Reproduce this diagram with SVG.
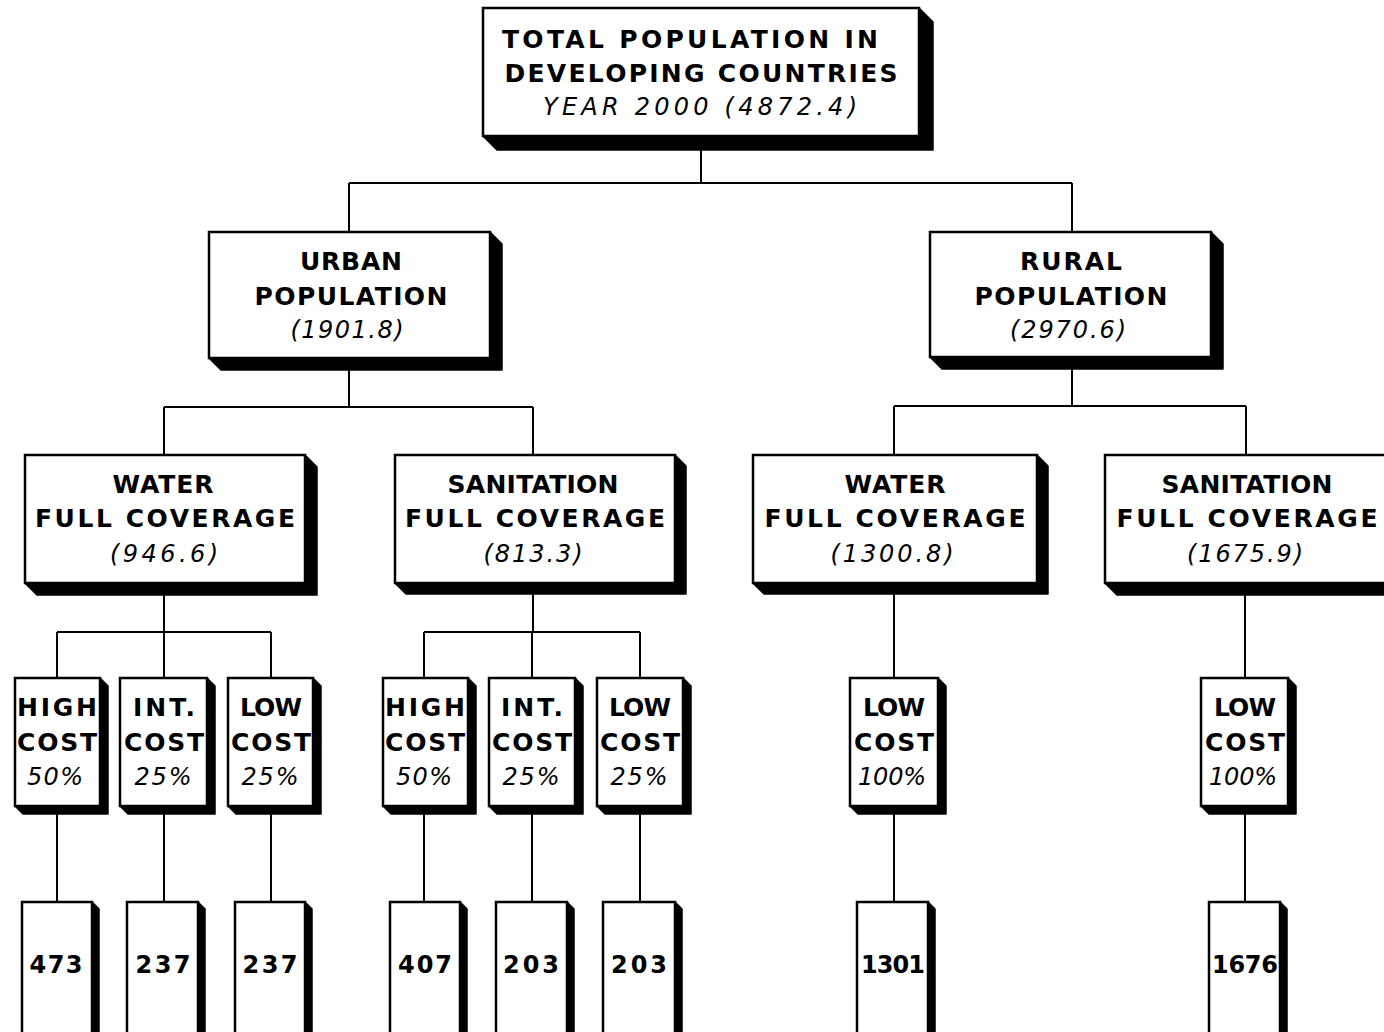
<svg xmlns="http://www.w3.org/2000/svg" width="1384" height="1032" viewBox="0 0 1384 1032">
<style>
.face{fill:#fff;stroke:#000;stroke-width:2.5}
.sh{fill:#000;stroke:#000;stroke-width:1.5;stroke-linejoin:round}
.b{font-family:"DejaVu Sans","Liberation Sans",Arial,sans-serif;font-weight:bold;font-size:25px;fill:#000;text-anchor:middle}
.i{font-family:"DejaVu Sans","Liberation Sans",Arial,sans-serif;font-style:italic;font-size:24px;fill:#000;text-anchor:middle}
.n{font-size:24px}
.c line{stroke:#000;stroke-width:2}
</style>
<rect width="1384" height="1032" fill="#fff"/>
<g class="c" id="connectors">
<line x1="701" y1="148" x2="701" y2="183"/>
<line x1="349" y1="183" x2="1072" y2="183"/>
<line x1="349" y1="183" x2="349" y2="232"/>
<line x1="1072" y1="183" x2="1072" y2="232"/>
<line x1="349" y1="370" x2="349" y2="407"/>
<line x1="164" y1="407" x2="533" y2="407"/>
<line x1="164" y1="407" x2="164" y2="455"/>
<line x1="533" y1="407" x2="533" y2="455"/>
<line x1="1072" y1="369" x2="1072" y2="406"/>
<line x1="894" y1="406" x2="1246" y2="406"/>
<line x1="894" y1="406" x2="894" y2="455"/>
<line x1="1246" y1="406" x2="1246" y2="455"/>
<line x1="164" y1="595" x2="164" y2="632"/>
<line x1="57" y1="632" x2="271" y2="632"/>
<line x1="57" y1="632" x2="57" y2="678"/>
<line x1="164" y1="632" x2="164" y2="678"/>
<line x1="271" y1="632" x2="271" y2="678"/>
<line x1="533" y1="594" x2="533" y2="632"/>
<line x1="424" y1="632" x2="640" y2="632"/>
<line x1="424" y1="632" x2="424" y2="678"/>
<line x1="532" y1="632" x2="532" y2="678"/>
<line x1="640" y1="632" x2="640" y2="678"/>
<line x1="894" y1="594" x2="894" y2="678"/>
<line x1="1245" y1="595" x2="1245" y2="678"/>
<line x1="57" y1="814" x2="57" y2="902"/>
<line x1="164" y1="814" x2="164" y2="902"/>
<line x1="271" y1="814" x2="271" y2="902"/>
<line x1="424" y1="814" x2="424" y2="902"/>
<line x1="532" y1="814" x2="532" y2="902"/>
<line x1="640" y1="814" x2="640" y2="902"/>
<line x1="894" y1="814" x2="894" y2="902"/>
<line x1="1245" y1="814" x2="1245" y2="902"/>
</g>

<g id="total">
<polygon class="sh" points="483,136 919,136 919,8 933,22 933,150 497,150"/>
<rect class="face" x="483" y="8" width="436" height="128"/>
<text class="b" x="690" y="48" font-size="24" textLength="376">TOTAL POPULATION IN</text>
<text class="b" x="701" y="82" font-size="24" textLength="393">DEVELOPING COUNTRIES</text>
<text class="i" x="700" y="115" textLength="314">YEAR 2000 (4872.4)</text>
</g>

<g id="urban">
<polygon class="sh" points="209,358 490,358 490,232 502,244 502,370 221,370"/>
<rect class="face" x="209" y="232" width="281" height="126"/>
<text class="b" x="351" y="270" textLength="102">URBAN</text>
<text class="b" x="351" y="305" textLength="193">POPULATION</text>
<text class="i" x="347" y="338" textLength="113">(1901.8)</text>
</g>

<g id="rural">
<polygon class="sh" points="930,357 1211,357 1211,232 1223,244 1223,369 942,369"/>
<rect class="face" x="930" y="232" width="281" height="125"/>
<text class="b" x="1071" y="270" textLength="102">RURAL</text>
<text class="b" x="1071" y="305" textLength="193">POPULATION</text>
<text class="i" x="1068" y="338" textLength="116">(2970.6)</text>
</g>

<g id="urban-water">
<polygon class="sh" points="25,583 305,583 305,455 317,467 317,595 37,595"/>
<rect class="face" x="25" y="455" width="280" height="128"/>
<text class="b" x="163" y="493" textLength="101">WATER</text>
<text class="b" x="165" y="527" textLength="260">FULL COVERAGE</text>
<text class="i" x="164" y="562" textLength="108">(946.6)</text>
</g>

<g id="urban-sanitation">
<polygon class="sh" points="395,583 675,583 675,455 686,466 686,594 406,594"/>
<rect class="face" x="395" y="455" width="280" height="128"/>
<text class="b" x="533" y="493" textLength="171">SANITATION</text>
<text class="b" x="535" y="527" textLength="260">FULL COVERAGE</text>
<text class="i" x="533" y="562" textLength="99">(813.3)</text>
</g>

<g id="rural-water">
<polygon class="sh" points="753,583 1037,583 1037,455 1048,466 1048,594 764,594"/>
<rect class="face" x="753" y="455" width="284" height="128"/>
<text class="b" x="895" y="493" textLength="101">WATER</text>
<text class="b" x="895" y="527" textLength="261">FULL COVERAGE</text>
<text class="i" x="892" y="562" textLength="123">(1300.8)</text>
</g>

<g id="rural-sanitation">
<polygon class="sh" points="1105,583 1392,583 1392,455 1404,467 1404,595 1117,595"/>
<rect class="face" x="1105" y="455" width="287" height="128"/>
<text class="b" x="1247" y="493" textLength="171">SANITATION</text>
<text class="b" x="1247" y="527" textLength="261">FULL COVERAGE</text>
<text class="i" x="1245" y="562" textLength="116">(1675.9)</text>
</g>

<g id="uw-high">
<polygon class="sh" points="15,806 100,806 100,678 108,686 108,814 23,814"/>
<rect class="face" x="15" y="678" width="85" height="128"/>
<text class="b" x="57" y="716" textLength="80">HIGH</text>
<text class="b" x="57" y="751" textLength="80">COST</text>
<text class="i" x="55" y="785" textLength="56">50%</text>
</g>
<g id="uw-int">
<polygon class="sh" points="120,806 207,806 207,678 215,686 215,814 128,814"/>
<rect class="face" x="120" y="678" width="87" height="128"/>
<text class="b" x="164" y="716" textLength="62">INT.</text>
<text class="b" x="164" y="751" textLength="80">COST</text>
<text class="i" x="163" y="785" textLength="57">25%</text>
</g>
<g id="uw-low">
<polygon class="sh" points="228,806 313,806 313,678 321,686 321,814 236,814"/>
<rect class="face" x="228" y="678" width="85" height="128"/>
<text class="b" x="271" y="716" textLength="62">LOW</text>
<text class="b" x="271" y="751" textLength="80">COST</text>
<text class="i" x="270" y="785" textLength="57">25%</text>
</g>

<g id="us-high">
<polygon class="sh" points="383,806 468,806 468,678 476,686 476,814 391,814"/>
<rect class="face" x="383" y="678" width="85" height="128"/>
<text class="b" x="425" y="716" textLength="80">HIGH</text>
<text class="b" x="425" y="751" textLength="80">COST</text>
<text class="i" x="424" y="785" textLength="56">50%</text>
</g>
<g id="us-int">
<polygon class="sh" points="489,806 575,806 575,678 583,686 583,814 497,814"/>
<rect class="face" x="489" y="678" width="86" height="128"/>
<text class="b" x="532" y="716" textLength="62">INT.</text>
<text class="b" x="532" y="751" textLength="80">COST</text>
<text class="i" x="531" y="785" textLength="57">25%</text>
</g>
<g id="us-low">
<polygon class="sh" points="597,806 683,806 683,678 691,686 691,814 605,814"/>
<rect class="face" x="597" y="678" width="86" height="128"/>
<text class="b" x="640" y="716" textLength="62">LOW</text>
<text class="b" x="640" y="751" textLength="80">COST</text>
<text class="i" x="639" y="785" textLength="57">25%</text>
</g>

<g id="rw-low">
<polygon class="sh" points="850,806 938,806 938,678 946,686 946,814 858,814"/>
<rect class="face" x="850" y="678" width="88" height="128"/>
<text class="b" x="894" y="716" textLength="62">LOW</text>
<text class="b" x="894" y="751" textLength="80">COST</text>
<text class="i" x="892" y="785" textLength="68">100%</text>
</g>
<g id="rs-low">
<polygon class="sh" points="1201,806 1288,806 1288,678 1296,686 1296,814 1209,814"/>
<rect class="face" x="1201" y="678" width="87" height="128"/>
<text class="b" x="1245" y="716" textLength="62">LOW</text>
<text class="b" x="1245" y="751" textLength="80">COST</text>
<text class="i" x="1243" y="785" textLength="68">100%</text>
</g>

<g id="v473">
<polygon class="sh" points="22,1045 92,1045 92,902 99,909 99,1052 29,1052"/>
<rect class="face" x="22" y="902" width="70" height="143"/>
<text class="b n" x="56" y="973" textLength="53">473</text>
</g>
<g id="v237a">
<polygon class="sh" points="127,1045 198,1045 198,902 205,909 205,1052 134,1052"/>
<rect class="face" x="127" y="902" width="71" height="143"/>
<text class="b n" x="163" y="973" textLength="55">237</text>
</g>
<g id="v237b">
<polygon class="sh" points="235,1045 305,1045 305,902 312,909 312,1052 242,1052"/>
<rect class="face" x="235" y="902" width="70" height="143"/>
<text class="b n" x="270" y="973" textLength="55">237</text>
</g>
<g id="v407">
<polygon class="sh" points="390,1045 460,1045 460,902 467,909 467,1052 397,1052"/>
<rect class="face" x="390" y="902" width="70" height="143"/>
<text class="b n" x="425" y="973" textLength="54">407</text>
</g>
<g id="v203a">
<polygon class="sh" points="496,1045 567,1045 567,902 574,909 574,1052 503,1052"/>
<rect class="face" x="496" y="902" width="71" height="143"/>
<text class="b n" x="531" y="973" textLength="56">203</text>
</g>
<g id="v203b">
<polygon class="sh" points="603,1045 675,1045 675,902 682,909 682,1052 610,1052"/>
<rect class="face" x="603" y="902" width="72" height="143"/>
<text class="b n" x="639" y="973" textLength="56">203</text>
</g>
<g id="v1301">
<polygon class="sh" points="857,1045 928,1045 928,902 935,909 935,1052 864,1052"/>
<rect class="face" x="857" y="902" width="71" height="143"/>
<text class="b n" x="893" y="973" textLength="64">1301</text>
</g>
<g id="v1676">
<polygon class="sh" points="1209,1045 1280,1045 1280,902 1287,909 1287,1052 1216,1052"/>
<rect class="face" x="1209" y="902" width="71" height="143"/>
<text class="b n" x="1245" y="973" textLength="66">1676</text>
</g>
</svg>
